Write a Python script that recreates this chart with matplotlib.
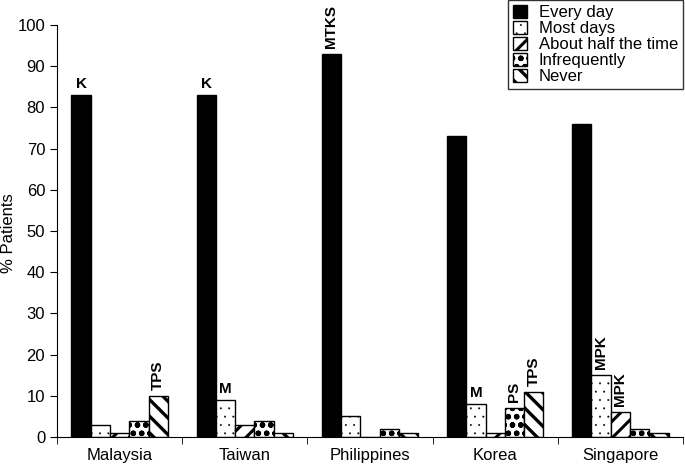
import matplotlib
matplotlib.use("Agg")
import matplotlib.pyplot as plt
import numpy as np

countries = ["Malaysia", "Taiwan", "Philippines", "Korea", "Singapore"]
series_names = ["Every day", "Most days", "About half the time", "Infrequently", "Never"]
every_day = [83, 83, 93, 73, 76]
most_days = [3, 9, 5, 8, 15]
half_time = [1, 3, 0, 1, 6]
infrequently = [4, 4, 2, 7, 2]
never = [10, 1, 1, 11, 1]

# annotations: (country index, series index, text, rotated)
annotations = [
    (0, 0, "K", False), (0, 4, "TPS", True),
    (1, 0, "K", False), (1, 1, "M", False),
    (2, 0, "MTKS", True),
    (3, 1, "M", False), (3, 3, "PS", True), (3, 4, "TPS", True),
    (4, 1, "MPK", True), (4, 2, "MPK", True),
]

plt.rcParams['font.family'] = ['Liberation Sans', 'DejaVu Sans']

fig = plt.figure(figsize=(6.85, 4.67), dpi=100)
ax = fig.add_axes([57/685, 30/467, 626/685, 412/467])

data = [every_day, most_days, half_time, infrequently, never]
styles = [
    dict(facecolor="black", hatch=None),
    dict(facecolor="white", hatch=".."),
    dict(facecolor="white", hatch="//"),
    dict(facecolor="white", hatch="oo"),
    dict(facecolor="white", hatch="\\\\"),
]
hatch_lw = [1.0, 0.2, 2.2, 1.6, 2.4]
x = np.arange(len(countries))
w = 0.154
for i, (vals, st) in enumerate(zip(data, styles)):
    pos = x + (i - 2) * w
    bars = ax.bar(pos, vals, width=w, edgecolor="black", linewidth=1.0,
                  label=series_names[i], **st)
    for b in bars:
        if hasattr(b, "set_hatch_linewidth"):
            b.set_hatch_linewidth(hatch_lw[i])

for ci, si, txt, rot in annotations:
    xp = ci + (si - 2) * w
    yv = data[si][ci]
    if rot:
        ax.text(xp, yv + 1.5, txt, rotation=90, ha="center", va="bottom",
                fontsize=11, fontweight="bold")
    else:
        ax.text(xp, yv + 0.9, txt, ha="center", va="bottom",
                fontsize=11, fontweight="bold")

ax.set_xlim(-0.5, 4.5)
ax.set_ylim(0, 100)
ax.set_yticks(range(0, 101, 10))
ax.set_xticks(x)
ax.set_xticklabels(countries)
ax.set_xticks(np.arange(-0.5, 5.0, 1.0), minor=True)
ax.tick_params(axis="x", which="major", length=0, pad=8, labelsize=12)
ax.tick_params(axis="x", which="minor", length=5, direction="out")
ax.tick_params(axis="y", length=5, direction="out", labelsize=12)
for s in ["top", "right"]:
    ax.spines[s].set_visible(False)
fig.text(9/685, 1 - 233/467, "% Patients", rotation=90, ha="center",
         va="center", fontsize=12)

leg = ax.legend(loc="upper right", bbox_to_anchor=(1.0, 1.06), fontsize=12,
                frameon=True, fancybox=False, edgecolor="black",
                handlelength=0.85, handleheight=0.8, handletextpad=0.7,
                labelspacing=0.05, borderpad=0.3, borderaxespad=0.0)
leg.get_frame().set_linewidth(1.0)
for h, lw in zip(leg.legend_handles, hatch_lw):
    if hasattr(h, "set_hatch_linewidth"):
        h.set_hatch_linewidth(lw)

fig.savefig("out.png", dpi=100)
